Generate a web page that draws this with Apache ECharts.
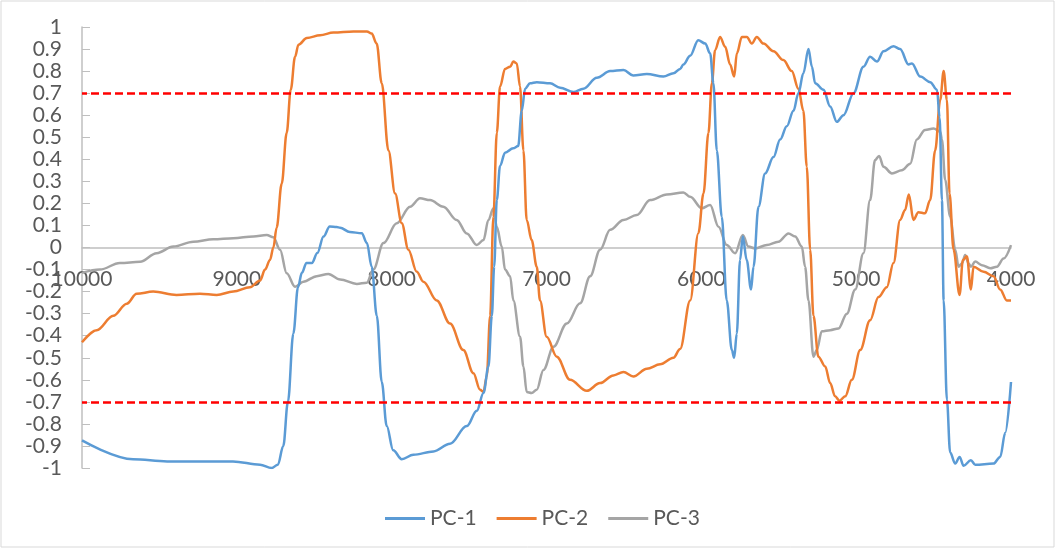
<!DOCTYPE html>
<html>
<head>
    <meta charset="utf-8">
    <title>PC loadings</title>
    <script type="text/javascript" src="https://cdn.jsdelivr.net/npm/echarts@6/dist/echarts.min.js"></script>
</head>
<body style="margin:0">
<div id="main" style="width: 1056px;height:550px;"></div>
<script type="text/javascript">
    // wavenumber / loading pairs
    var pc1X = [10000, 9670, 9450, 9025, 8850, 8775, 8735, 8700, 8670, 8635, 8605, 8580, 8550, 8515, 8480, 8440, 8400, 8355, 8333, 8270, 8193, 8160, 8129, 8096, 8064, 8032, 7990, 7935, 7860, 7730, 7623, 7515, 7450, 7407, 7375, 7353, 7338, 7321, 7300, 7268, 7215, 7183, 7160, 7138, 7106, 7063, 6977, 6912, 6826, 6762, 6675, 6589, 6503, 6440, 6352, 6245, 6180, 6137, 6116, 6072, 6020, 5975, 5943, 5922, 5900, 5868, 5836, 5803, 5788, 5771, 5750, 5732, 5707, 5679, 5663, 5631, 5588, 5534, 5491, 5448, 5405, 5373, 5341, 5308, 5286, 5265, 5211, 5168, 5125, 5082, 5017, 4953, 4910, 4866, 4823, 4759, 4716, 4662, 4640, 4586, 4522, 4478, 4461, 4446, 4435, 4414, 4393, 4360, 4332, 4306, 4259, 4231, 4113, 4070, 4037, 4000];
    var pc1Y = [-0.875, -0.96, -0.97, -0.97, -0.985, -1.0, -0.985, -0.9, -0.7, -0.39, -0.18, -0.115, -0.07, -0.07, -0.025, 0.05, 0.095, 0.093, 0.09, 0.07, 0.065, 0.02, -0.087, -0.31, -0.61, -0.81, -0.92, -0.96, -0.94, -0.925, -0.89, -0.81, -0.74, -0.66, -0.54, -0.31, -0.087, 0.215, 0.37, 0.43, 0.45, 0.46, 0.62, 0.72, 0.745, 0.75, 0.745, 0.725, 0.705, 0.72, 0.77, 0.8, 0.805, 0.78, 0.787, 0.775, 0.79, 0.81, 0.83, 0.87, 0.94, 0.925, 0.88, 0.745, 0.44, 0.14, -0.24, -0.465, -0.5, -0.39, -0.057, 0.05, -0.057, -0.19, -0.087, 0.185, 0.336, 0.41, 0.49, 0.55, 0.62, 0.7, 0.79, 0.9, 0.82, 0.745, 0.715, 0.64, 0.57, 0.6, 0.7, 0.82, 0.865, 0.843, 0.89, 0.913, 0.9, 0.83, 0.835, 0.775, 0.75, 0.715, 0.59, 0.215, -0.24, -0.69, -0.93, -0.98, -0.95, -0.99, -0.965, -0.985, -0.98, -0.95, -0.84, -0.61];

    var pc2X = [10000, 9905, 9798, 9711, 9647, 9540, 9390, 9238, 9130, 9023, 8915, 8850, 8818, 8786, 8764, 8743, 8710, 8678, 8652, 8624, 8602, 8548, 8462, 8376, 8247, 8160, 8129, 8097, 8064, 8021, 7978, 7935, 7892, 7838, 7795, 7709, 7623, 7537, 7472, 7429, 7407, 7386, 7364, 7343, 7321, 7300, 7268, 7235, 7214, 7192, 7171, 7149, 7128, 7096, 7063, 7042, 6999, 6934, 6848, 6740, 6654, 6568, 6503, 6439, 6352, 6266, 6180, 6137, 6072, 6019, 5986, 5954, 5932, 5911, 5879, 5846, 5814, 5788, 5771, 5738, 5706, 5674, 5642, 5599, 5534, 5470, 5416, 5373, 5341, 5319, 5297, 5276, 5244, 5200, 5168, 5136, 5108, 5071, 5028, 4974, 4910, 4856, 4802, 4759, 4716, 4684, 4660, 4630, 4598, 4555, 4522, 4490, 4457, 4435, 4414, 4397, 4371, 4332, 4311, 4285, 4259, 4242, 4177, 4113, 4070, 4027, 4000];
    var pc2Y = [-0.43, -0.375, -0.31, -0.255, -0.21, -0.2, -0.215, -0.21, -0.215, -0.2, -0.18, -0.15, -0.1, -0.057, 0.0, 0.09, 0.29, 0.52, 0.715, 0.865, 0.92, 0.95, 0.963, 0.975, 0.98, 0.98, 0.97, 0.925, 0.745, 0.44, 0.245, 0.11, -0.01, -0.11, -0.155, -0.24, -0.345, -0.465, -0.57, -0.645, -0.655, -0.585, -0.31, 0.14, 0.52, 0.73, 0.81, 0.82, 0.843, 0.835, 0.73, 0.44, 0.125, 0.034, -0.087, -0.24, -0.405, -0.495, -0.6, -0.65, -0.615, -0.58, -0.565, -0.585, -0.55, -0.53, -0.5, -0.46, -0.24, 0.065, 0.245, 0.52, 0.745, 0.895, 0.955, 0.91, 0.83, 0.775, 0.88, 0.955, 0.955, 0.925, 0.955, 0.925, 0.89, 0.85, 0.8, 0.72, 0.62, 0.366, -0.01, -0.31, -0.495, -0.54, -0.615, -0.675, -0.695, -0.675, -0.6, -0.465, -0.33, -0.225, -0.18, -0.07, 0.125, 0.17, 0.24, 0.125, 0.16, 0.155, 0.215, 0.44, 0.67, 0.8, 0.67, 0.245, -0.01, -0.215, -0.057, -0.04, -0.19, -0.087, -0.11, -0.13, -0.19, -0.24, -0.24];

    var pc3X = [10000, 9884, 9755, 9625, 9518, 9410, 9281, 9152, 9023, 8893, 8807, 8764, 8721, 8678, 8624, 8570, 8484, 8409, 8333, 8225, 8161, 8118, 8053, 7967, 7881, 7817, 7752, 7666, 7580, 7515, 7450, 7407, 7375, 7343, 7321, 7289, 7268, 7235, 7214, 7171, 7149, 7128, 7096, 7063, 7020, 6955, 6869, 6783, 6718, 6654, 6589, 6503, 6417, 6331, 6223, 6116, 6072, 5997, 5943, 5889, 5836, 5782, 5732, 5696, 5653, 5577, 5502, 5437, 5394, 5351, 5330, 5308, 5276, 5254, 5222, 5168, 5114, 5060, 5006, 4953, 4910, 4878, 4852, 4823, 4769, 4705, 4651, 4608, 4555, 4500, 4457, 4446, 4425, 4393, 4360, 4339, 4317, 4296, 4274, 4259, 4231, 4188, 4134, 4091, 4048, 4000];
    var pc3Y = [-0.115, -0.1, -0.07, -0.065, -0.026, 0.004, 0.026, 0.037, 0.042, 0.05, 0.057, 0.046, -0.01, -0.117, -0.178, -0.155, -0.13, -0.12, -0.145, -0.165, -0.16, -0.1, 0.02, 0.11, 0.185, 0.223, 0.215, 0.185, 0.125, 0.064, 0.011, 0.034, 0.125, 0.178, 0.094, 0.004, -0.1, -0.13, -0.24, -0.405, -0.54, -0.655, -0.66, -0.645, -0.555, -0.45, -0.345, -0.253, -0.13, -0.01, 0.08, 0.125, 0.147, 0.215, 0.24, 0.25, 0.23, 0.178, 0.193, 0.094, 0.011, -0.026, 0.057, 0.004, -0.004, 0.011, 0.026, 0.064, 0.05, 0.004, -0.087, -0.24, -0.495, -0.465, -0.38, -0.375, -0.367, -0.3, -0.19, -0.026, 0.215, 0.397, 0.415, 0.366, 0.336, 0.35, 0.38, 0.49, 0.533, 0.54, 0.525, 0.49, 0.306, 0.14, -0.01, -0.087, -0.072, -0.034, -0.072, -0.087, -0.064, -0.08, -0.094, -0.087, -0.05, 0.011];

    var seriesNames = ['PC-1', 'PC-2', 'PC-3'];
    var seriesColors = ['#5b9bd5', '#ed7d31', '#a5a5a5'];
    var thresholds = [0.7, -0.7];

    function pairs(xs, ys) {
        var out = [];
        for (var i = 0; i < xs.length; i++) out.push([xs[i], ys[i]]);
        return out;
    }
    var allData = [pairs(pc1X, pc1Y), pairs(pc2X, pc2Y), pairs(pc3X, pc3Y)];

    var myChart = echarts.init(document.getElementById('main'));
    var txt = {fontFamily: 'Lato', fontSize: 21, color: '#595959'};
    var gridTop = 27, gridBottom = 82;
    // half of the plot height: moves the x axis up onto y = 0
    var zeroOffset = (550 - gridTop - gridBottom) / 2;

    var series = seriesNames.map(function (name, i) {
        var s = {
            name: name,
            type: 'line',
            data: allData[i],
            symbol: 'none',
            smooth: 0.35,
            smoothMonotone: 'x',
            lineStyle: {width: 2.5, color: seriesColors[i]},
            itemStyle: {color: seriesColors[i]},
            z: 3 - i
        };
        if (i === 0) {
            s.markLine = {
                silent: true,
                symbol: 'none',
                label: {show: false},
                lineStyle: {color: '#ff0000', type: [8, 4], width: 2.5},
                data: thresholds.map(function (t) { return {yAxis: t}; })
            };
        }
        return s;
    });

    var option = {
        animation: false,
        backgroundColor: '#ffffff',
        graphic: [{
            type: 'rect',
            shape: {x: 1, y: 1, width: 1053, height: 546},
            style: {fill: 'none', stroke: '#d9d9d9', lineWidth: 1},
            silent: true
        }],
        grid: {left: 82, right: 45, top: gridTop, bottom: gridBottom},
        legend: {
            bottom: 16,
            left: 380,
            icon: 'rect',
            itemWidth: 40,
            itemHeight: 3,
            itemGap: 20,
            textStyle: txt,
            data: seriesNames
        },
        xAxis: {
            type: 'value',
            inverse: true,
            min: 4000,
            max: 10000,
            interval: 1000,
            position: 'bottom',
            offset: -zeroOffset,
            axisLine: {onZero: false, lineStyle: {color: '#bfbfbf', width: 1.5}},
            axisTick: {show: false},
            axisLabel: Object.assign({margin: 21, formatter: function (v) { return String(v); }}, txt),
            splitLine: {show: false}
        },
        yAxis: {
            type: 'value',
            min: -1,
            max: 1,
            interval: 0.1,
            axisLine: {show: true, lineStyle: {color: '#bfbfbf', width: 1.5}},
            axisTick: {show: true, inside: true, length: 8, lineStyle: {color: '#bfbfbf'}},
            axisLabel: Object.assign({margin: 20}, txt),
            splitLine: {show: false}
        },
        series: series
    };

    myChart.setOption(option);
</script>
</body>
</html>
